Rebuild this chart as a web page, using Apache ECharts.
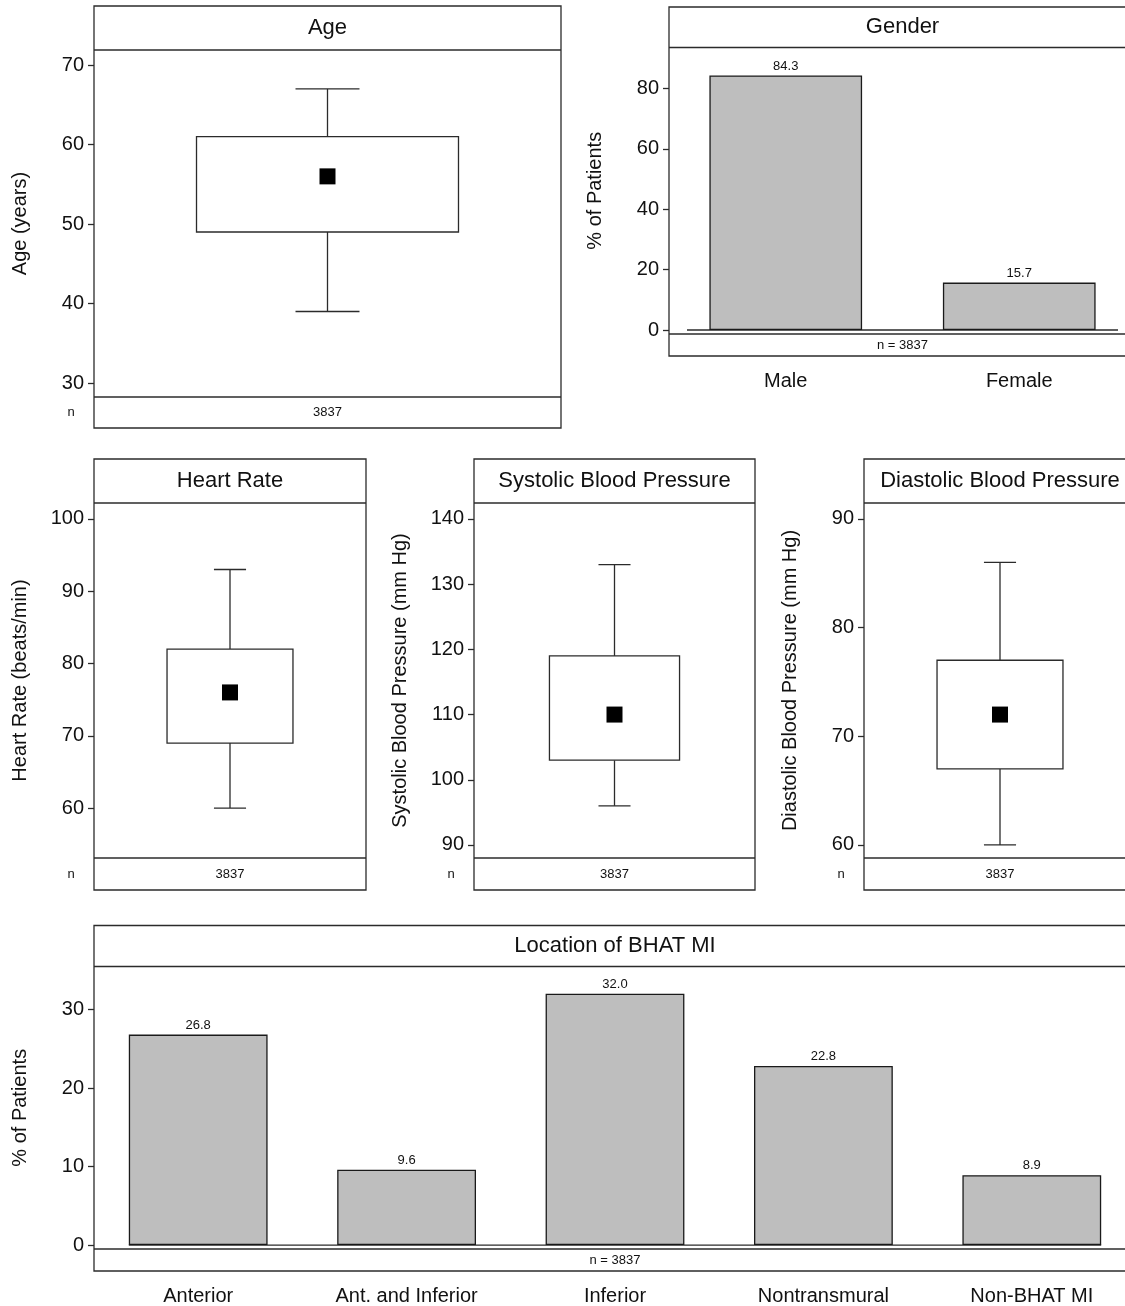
<!DOCTYPE html>
<html>
<head>
<meta charset="utf-8">
<script src="https://cdn.jsdelivr.net/npm/echarts@6/dist/echarts.min.js"></script>
<style>html,body{margin:0;padding:0;background:#fff}#c{width:1125px;height:1306px}</style>
</head>
<body>
<div id="c"></div>
<script>
// ---- data ----
// box stats: [low whisker, Q1, mean, Q3, high whisker]
const ageStats = [39, 49, 56, 61, 67];
const heartRateStats = [60, 69, 76, 82, 93];
const systolicStats = [96, 103, 110, 119, 133];
const diastolicStats = [60, 67, 72, 77, 86];
const genderCategories = ['Male', 'Female'];
const genderValues = [84.3, 15.7];
const locationCategories = ['Anterior', 'Ant. and Inferior', 'Inferior', 'Nontransmural', 'Non-BHAT MI'];
const locationValues = [26.8, 9.6, 32.0, 22.8, 8.9];
const nPatients = 3837;
const ageTicks = [30, 40, 50, 60, 70];
const heartRateTicks = [60, 70, 80, 90, 100];
const systolicTicks = [90, 100, 110, 120, 130, 140];
const diastolicTicks = [60, 70, 80, 90];
const genderTicks = [0, 20, 40, 60, 80];
const locationTicks = [0, 10, 20, 30];

// ---- layout / style ----
const FONT = '"Liberation Sans", Arial, Helvetica, sans-serif';
const INK = '#2b2b2b';
const LW = 1.3;

const panels = [
  {title: 'Age', yName: 'Age (years)', frame: {l: 94, t: 6, r: 561, b: 428}, headY: 50, nY: 397,
   yMin: 28.24, yMax: 71.9, ticks: ageTicks, kind: 'box', stats: ageStats, cat: ['Age'], boxFrac: 0.561, capFrac: 0.137},
  {title: 'Gender', yName: '% of Patients', frame: {l: 669, t: 7, r: 1136, b: 356}, headY: 47.5, nY: 334,
   yMin: -1.32, yMax: 93.55, ticks: genderTicks, kind: 'bar', values: genderValues, cat: genderCategories, barFrac: '65.4%', baseExt: 0.423},
  {title: 'Heart Rate', yName: 'Heart Rate (beats/min)', frame: {l: 94, t: 459, r: 366, b: 890}, headY: 503, nY: 858,
   yMin: 53.1, yMax: 102.2, ticks: heartRateTicks, kind: 'box', stats: heartRateStats, cat: ['HR'], boxFrac: 0.463, capFrac: 0.118},
  {title: 'Systolic Blood Pressure', yName: 'Systolic Blood Pressure (mm Hg)', frame: {l: 474, t: 459, r: 755, b: 890}, headY: 503, nY: 858,
   yMin: 88.0, yMax: 142.45, ticks: systolicTicks, kind: 'box', stats: systolicStats, cat: ['SBP'], boxFrac: 0.463, capFrac: 0.114},
  {title: 'Diastolic Blood Pressure', yName: 'Diastolic Blood Pressure (mm Hg)', frame: {l: 864, t: 459, r: 1136, b: 890}, headY: 503, nY: 858,
   yMin: 58.8, yMax: 91.47, ticks: diastolicTicks, kind: 'box', stats: diastolicStats, cat: ['DBP'], boxFrac: 0.463, capFrac: 0.118},
  {title: 'Location of BHAT MI', yName: '% of Patients', frame: {l: 94, t: 925.5, r: 1136, b: 1271}, headY: 966.5, nY: 1249,
   yMin: -0.5, yMax: 35.47, ticks: locationTicks, kind: 'bar', values: locationValues, cat: locationCategories, barFrac: '66.6%', baseExt: 0.333}
];

function boxRenderer(boxFrac, capFrac, meanSize) {
  return function (params, api) {
    const xi = api.value(0);
    const band = api.size([1, 0])[0];
    const lo = api.coord([xi, api.value(1)]);
    const q1 = api.coord([xi, api.value(2)]);
    const mean = api.coord([xi, api.value(3)]);
    const q3 = api.coord([xi, api.value(4)]);
    const hi = api.coord([xi, api.value(5)]);
    const cx = lo[0];
    const bw = band * boxFrac, cw = band * capFrac;
    const ls = {stroke: INK, lineWidth: LW, fill: null};
    return {type: 'group', children: [
      {type: 'line', shape: {x1: cx, y1: hi[1], x2: cx, y2: q3[1]}, style: ls},
      {type: 'line', shape: {x1: cx - cw / 2, y1: hi[1], x2: cx + cw / 2, y2: hi[1]}, style: ls},
      {type: 'line', shape: {x1: cx, y1: q1[1], x2: cx, y2: lo[1]}, style: ls},
      {type: 'line', shape: {x1: cx - cw / 2, y1: lo[1], x2: cx + cw / 2, y2: lo[1]}, style: ls},
      {type: 'rect', shape: {x: cx - bw / 2, y: q3[1], width: bw, height: q1[1] - q3[1]}, style: {fill: '#fff', stroke: INK, lineWidth: LW}},
      {type: 'rect', shape: {x: mean[0] - meanSize / 2, y: mean[1] - meanSize / 2, width: meanSize, height: meanSize}, style: {fill: '#000'}}
    ]};
  };
}

function baseRenderer(count, ext) {
  return function (params, api) {
    const band = api.size([1, 0])[0];
    const a = api.coord([0, 0]);
    const b = api.coord([count - 1, 0]);
    return {type: 'line', shape: {x1: a[0] - band * ext, y1: a[1], x2: b[0] + band * ext, y2: b[1]},
      style: {stroke: INK, lineWidth: LW}};
  };
}

const grid = [], xAxis = [], yAxis = [], series = [], graphic = [];
panels.forEach((p, i) => {
  const f = p.frame;
  grid.push({left: f.l, top: p.headY, width: f.r - f.l, height: p.nY - p.headY,
    containLabel: false, outerBoundsMode: 'none', show: false});
  xAxis.push({type: 'category', gridIndex: i, data: p.cat, boundaryGap: true,
    axisLine: {show: false}, axisTick: {show: false}, splitLine: {show: false},
    axisLabel: {show: p.kind === 'bar', fontSize: 20, color: '#111', fontFamily: FONT, margin: 37, interval: 0}});
  yAxis.push({type: 'value', gridIndex: i, min: p.yMin, max: p.yMax,
    axisLine: {show: false}, splitLine: {show: false},
    axisTick: {show: true, length: 6, customValues: p.ticks, lineStyle: {color: INK, width: LW}},
    axisLabel: {customValues: p.ticks, fontSize: 20, color: '#111', fontFamily: FONT, margin: 10},
    name: p.yName, nameLocation: 'middle', nameRotate: 90, nameGap: 64,
    nameTextStyle: {fontSize: 20, color: '#111', fontFamily: FONT}});
  if (p.kind === 'box') {
    series.push({type: 'custom', xAxisIndex: i, yAxisIndex: i, renderItem: boxRenderer(p.boxFrac, p.capFrac, 16),
      data: [[0].concat(p.stats)], silent: true, z: 3});
  } else {
    series.push({type: 'custom', xAxisIndex: i, yAxisIndex: i, renderItem: baseRenderer(p.cat.length, p.baseExt),
      data: [[0]], silent: true, z: 1});
    series.push({type: 'bar', xAxisIndex: i, yAxisIndex: i, data: p.values, barWidth: p.barFrac, z: 2,
      itemStyle: {color: '#bebebe', borderColor: '#1a1a1a', borderWidth: LW},
      label: {show: true, position: 'top', distance: 3, fontSize: 13, color: '#111', fontFamily: FONT,
        formatter: d => d.value.toFixed(1)}});
  }
  // frame
  graphic.push({type: 'rect', shape: {x: f.l, y: f.t, width: f.r - f.l, height: f.b - f.t},
    style: {fill: null, stroke: INK, lineWidth: LW}, silent: true, z: 10});
  graphic.push({type: 'line', shape: {x1: f.l, y1: p.headY, x2: f.r, y2: p.headY},
    style: {stroke: INK, lineWidth: LW}, silent: true, z: 10});
  graphic.push({type: 'line', shape: {x1: f.l, y1: p.nY, x2: f.r, y2: p.nY},
    style: {stroke: INK, lineWidth: LW}, silent: true, z: 10});
  const cx = (f.l + f.r) / 2;
  graphic.push({type: 'text', x: cx, y: (f.t + p.headY) / 2, silent: true, z: 10,
    style: {text: p.title, fontSize: 22, fontFamily: FONT, fill: '#111', align: 'center', verticalAlign: 'middle'}});
  const nyc = (p.nY + f.b) / 2;
  if (p.kind === 'box') {
    graphic.push({type: 'text', x: cx, y: nyc, silent: true, z: 10,
      style: {text: String(nPatients), fontSize: 13, fontFamily: FONT, fill: '#111', align: 'center', verticalAlign: 'middle'}});
    graphic.push({type: 'text', x: f.l - 23, y: nyc, silent: true, z: 10,
      style: {text: 'n', fontSize: 13, fontFamily: FONT, fill: '#111', align: 'center', verticalAlign: 'middle'}});
  } else {
    graphic.push({type: 'text', x: cx, y: nyc, silent: true, z: 10,
      style: {text: 'n = ' + nPatients, fontSize: 13, fontFamily: FONT, fill: '#111', align: 'center', verticalAlign: 'middle'}});
  }
});

const chart = echarts.init(document.getElementById('c'), null, {renderer: 'canvas'});
chart.setOption({animation: false, backgroundColor: '#fff', grid, xAxis, yAxis, series, graphic});
</script>
</body>
</html>
